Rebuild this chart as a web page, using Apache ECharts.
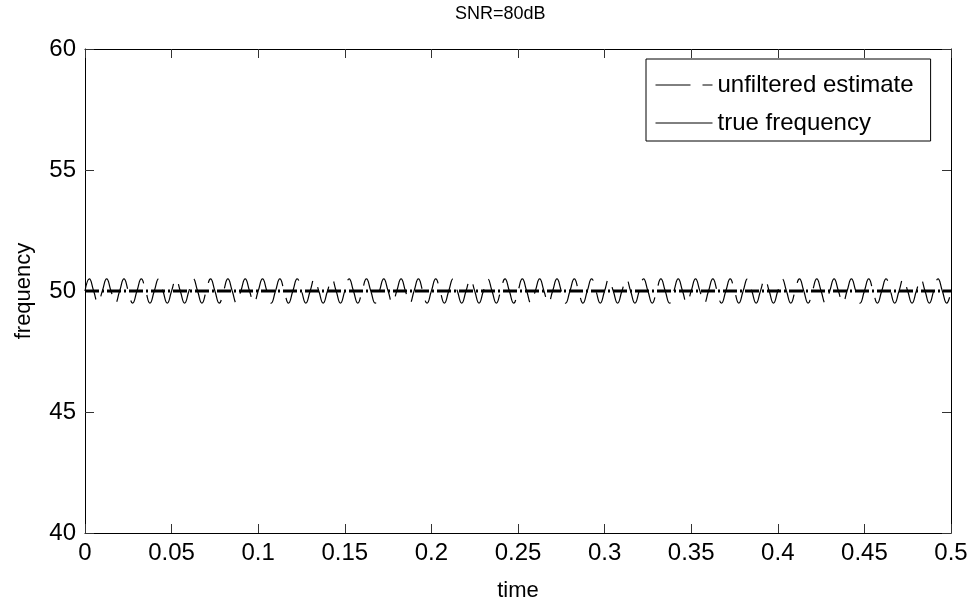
<!DOCTYPE html>
<html>
<head>
<meta charset="utf-8">
<script src="https://cdn.jsdelivr.net/npm/echarts@6/dist/echarts.min.js"></script>
<style>html,body{margin:0;padding:0;background:#fff}#c{width:975px;height:607px}</style>
</head>
<body>
<div id="c"></div>
<script>
// ---- data ----
const titleText = 'SNR=80dB';
const xName = 'time';
const yName = 'frequency';
const seriesNames = ['unfiltered estimate', 'true frequency'];
const sampleStep = 0.0025; // time between samples (s)
const xTicks = [0, 0.05, 0.1, 0.15, 0.2, 0.25, 0.3, 0.35, 0.4, 0.45, 0.5];
const yTicks = [40, 45, 50, 55, 60];
// unfiltered estimate: ~100 Hz ripple of about +/-0.5 Hz around 50 Hz
const unfiltered = [
50,50.5,50,49.5, 50,50.5,50,49.5, 50,50.5,50,49.5, 50,50.5,50,49.5, 50,50.5,50,49.5,
50,50.5,50,49.5, 50,50.5,50,49.5, 50,50.5,50,49.5, 50,50.5,50,49.5, 50,50.5,50,49.5,
50,50.5,50,49.5, 50,50.5,50,49.5, 50,50.5,50,49.5, 50,50.5,50,49.5, 50,50.5,50,49.5,
50,50.5,50,49.5, 50,50.5,50,49.5, 50,50.5,50,49.5, 50,50.5,50,49.5, 50,50.5,50,49.5,
50,50.5,50,49.5, 50,50.5,50,49.5, 50,50.5,50,49.5, 50,50.5,50,49.5, 50,50.5,50,49.5,
50,50.5,50,49.5, 50,50.5,50,49.5, 50,50.5,50,49.5, 50,50.5,50,49.5, 50,50.5,50,49.5,
50,50.5,50,49.5, 50,50.5,50,49.5, 50,50.5,50,49.5, 50,50.5,50,49.5, 50,50.5,50,49.5,
50,50.5,50,49.5, 50,50.5,50,49.5, 50,50.5,50,49.5, 50,50.5,50,49.5, 50,50.5,50,49.5,
50,50.5,50,49.5, 50,50.5,50,49.5, 50,50.5,50,49.5, 50,50.5,50,49.5, 50,50.5,50,49.5,
50,50.5,50,49.5, 50,50.5,50,49.5, 50,50.5,50,49.5, 50,50.5,50,49.5, 50,50.5,50,49.5,
50
];
const trueTimes = [0, 0.5];
const trueFreq = [50, 50];

// ---- build ----
const unfilteredPts = unfiltered.map((v, i) => [+(i * sampleStep).toFixed(4), v]);
const truePts = trueTimes.map((t, i) => [t, trueFreq[i]]);

const FONT = 'Liberation Sans, Arial, Helvetica, sans-serif';
const xMin = xTicks[0], xMax = xTicks[xTicks.length - 1];
const yMin = yTicks[0], yMax = yTicks[yTicks.length - 1];
const xInt = xTicks[1] - xTicks[0], yInt = yTicks[1] - yTicks[0];

function xAx(pos, show) {
  return {
    type: 'value', position: pos, min: xMin, max: xMax, interval: xInt,
    name: show ? xName : '', nameLocation: 'middle', nameGap: 47,
    nameTextStyle: {color: '#000', fontSize: 22, fontFamily: FONT},
    axisLine: {show: true, onZero: false, lineStyle: {color: '#000', width: 1}},
    axisTick: {show: true, inside: true, length: 9, lineStyle: {color: '#333'}},
    axisLabel: {show: show, color: '#000', fontSize: 24, fontFamily: FONT, margin: 8,
      formatter: v => String(+v.toFixed(2))},
    splitLine: {show: false}
  };
}
function yAx(pos, show) {
  return {
    type: 'value', position: pos, min: yMin, max: yMax, interval: yInt,
    name: show ? yName : '', nameLocation: 'middle', nameGap: 50, nameRotate: 90,
    nameTextStyle: {color: '#000', fontSize: 22, fontFamily: FONT},
    axisLine: {show: true, onZero: false, lineStyle: {color: '#000', width: 1}},
    axisTick: {show: true, inside: true, length: 9, lineStyle: {color: '#333'}},
    axisLabel: {show: show, color: '#000', fontSize: 24, fontFamily: FONT, margin: 9},
    splitLine: {show: false}
  };
}

const chart = echarts.init(document.getElementById('c'), null, {renderer: 'canvas'});
chart.setOption({
  animation: false,
  backgroundColor: '#fff',
  color: ['#000', '#000'],
  title: {text: titleText, left: 450, top: 0,
    textStyle: {color: '#000', fontSize: 18, fontWeight: 'normal', fontFamily: FONT}},
  grid: {left: 85, right: 24, top: 49, bottom: 73, containLabel: false},
  xAxis: [xAx('bottom', true), xAx('top', false)],
  yAxis: [yAx('left', true), yAx('right', false)],
  legend: {
    orient: 'vertical', left: 646, top: 59,
    backgroundColor: '#fff', borderColor: '#000', borderWidth: 1, borderRadius: 0,
    padding: [14, 17, 6, 9], itemGap: 14, itemWidth: 57, itemHeight: 13,
    textStyle: {color: '#000', fontSize: 24, fontFamily: FONT},
    itemStyle: {opacity: 0},
    data: [
      {name: seriesNames[0], lineStyle: {type: [35, 12], width: 1, color: '#000'}},
      {name: seriesNames[1], lineStyle: {type: 'solid', width: 1, color: '#000'}}
    ]
  },
  series: [
    {
      name: seriesNames[0], type: 'line', xAxisIndex: 0, yAxisIndex: 0,
      data: unfilteredPts, smooth: true, symbol: 'none',
      itemStyle: {color: '#000'},
      lineStyle: {color: '#000', width: 1.2, type: [35, 12]}, z: 2
    },
    {
      name: seriesNames[1], type: 'line', xAxisIndex: 0, yAxisIndex: 0,
      data: truePts, symbol: 'none',
      itemStyle: {color: '#000'},
      lineStyle: {color: '#000', width: 3, type: [14, 3, 2, 3]}, z: 3
    }
  ]
});
</script>
</body>
</html>
